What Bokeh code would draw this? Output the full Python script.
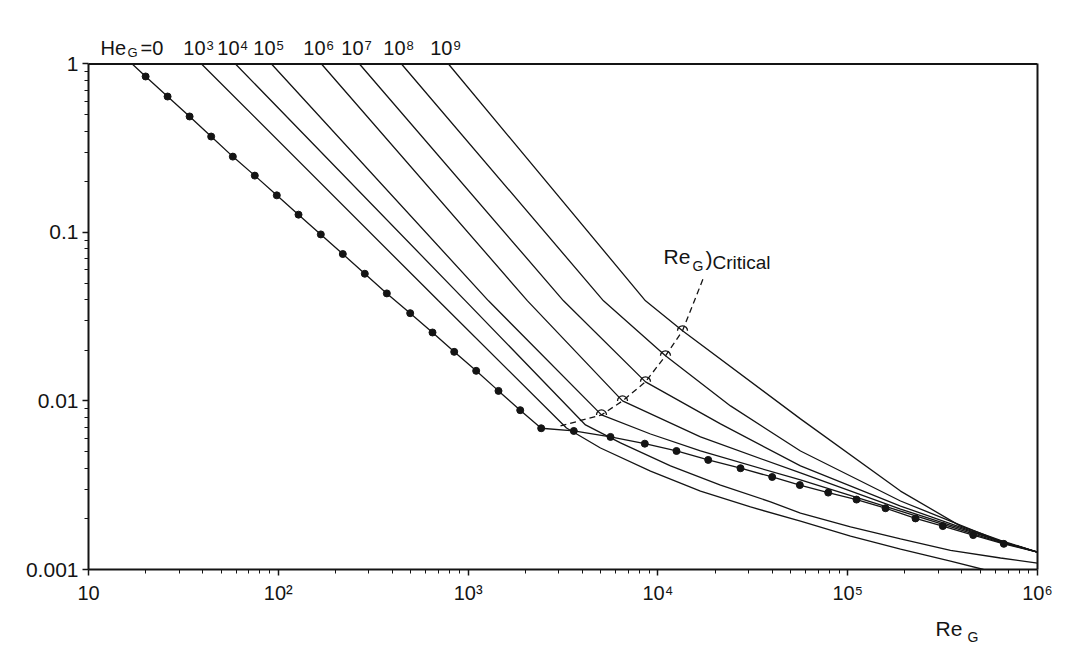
import math
from bokeh.plotting import figure
from bokeh.models import Range1d, FixedTicker, Label, LogAxis, Span
from bokeh.layouts import column
from bokeh.embed import file_html
from bokeh.resources import INLINE

FONT = "Liberation Sans"
INK = "#141414"

# ---------------- axis ticks ----------------
x_ticks = [10, 100, 1000, 10000, 100000, 1000000]
x_tick_labels = ["10", "10²", "10³", "10⁴", "10⁵", "10⁶"]
y_ticks = [0.001, 0.01, 0.1, 1]
y_tick_labels = ["0.001", "0.01", "0.1", "1"]

# ---------------- He_G = 0 (dotted Newtonian curve) ----------------
he0_dot_re = [20.0, 26.1, 34.1, 44.3, 57.6, 75.2, 98.2, 127.8, 167.5, 218.7, 285.6,
              373.1, 495.4, 649.3, 845, 1103, 1446, 1882, 2427,
              3605, 5627, 8531, 12530, 18410, 27240, 40010, 55950, 78940,
              111300, 158200, 227600, 317000, 458400, 664400]
he0_dot_f = [0.843, 0.641, 0.488, 0.371, 0.282, 0.2175, 0.1661, 0.1276, 0.0974, 0.0745, 0.0569,
             0.0435, 0.0332, 0.0255, 0.01957, 0.01510, 0.01148, 0.00882, 0.00689,
             0.00664, 0.00612, 0.00558, 0.00505, 0.00447, 0.00399, 0.00354, 0.00317, 0.00286,
             0.00260, 0.00231, 0.00201, 0.00181, 0.00160, 0.00142]
he0_end_re = [17, 1000000]
he0_end_f = [1.0, 0.00127]

# ---------------- He_G = 10^3 ... 10^9 ----------------
he_exp = ["3", "4", "5", "6", "7", "8", "9"]

re_he3 = [39.4, 698, 3299, 4984, 9142, 16760, 30750, 56390, 103500, 189800, 348000, 519400]
f_he3 = [1.0, 0.0393, 0.00692, 0.00526, 0.00384, 0.00292, 0.00235, 0.00194, 0.00158, 0.00132, 0.00112, 0.001]

re_he4 = [59.5, 969, 4154, 6353, 11650, 21370, 39210, 56390, 103500, 189800, 348000, 638500, 1000000]
f_he4 = [1.0, 0.0393, 0.00721, 0.00564, 0.00412, 0.00317, 0.00252, 0.00216, 0.00179, 0.00152, 0.00130, 0.00117, 0.00109]

re_he5 = [92.1, 1281, 5044, 9142, 16760, 56390, 189800, 638500, 1000000]
f_he5 = [1.0, 0.0393, 0.00827, 0.00637, 0.00505, 0.00340, 0.00222, 0.00145, 0.00127]

re_he6 = [168.9, 2056, 6509, 16760, 56390, 189800, 638500, 1000000]
f_he6 = [1.0, 0.0393, 0.01001, 0.00612, 0.00374, 0.00228, 0.00147, 0.00127]

re_he7 = [267.8, 3182, 8603, 21370, 56390, 189800, 638500, 1000000]
f_he7 = [1.0, 0.0393, 0.01299, 0.00731, 0.00412, 0.00238, 0.00147, 0.00127]

re_he8 = [445.8, 5168, 10965, 24130, 56390, 189800, 638500, 1000000]
f_he8 = [1.0, 0.0393, 0.01854, 0.00935, 0.00505, 0.00255, 0.00147, 0.00127]

re_he9 = [788, 8603, 13480, 56390, 189800, 392900, 638500, 1000000]
f_he9 = [1.0, 0.0393, 0.02609, 0.00783, 0.00292, 0.00181, 0.00149, 0.00127]

# ---------------- critical Reynolds number locus ----------------
crit_re = [3068, 5044, 6509, 8603, 10965, 13480, 17390]
crit_f = [0.00711, 0.00827, 0.01001, 0.01299, 0.01854, 0.02609, 0.0539]

curves_re = [re_he3, re_he4, re_he5, re_he6, re_he7, re_he8, re_he9]
curves_f = [f_he3, f_he4, f_he5, f_he6, f_he7, f_he8, f_he9]

W = 1072
LEFT, RIGHT = 88, 35
xr = Range1d(10, 1e6)
Y_TOP = 1.58   # headroom above f = 1 for the He_G labels

# ---------------- main figure ----------------
p = figure(width=W, height=614, x_axis_type="log", y_axis_type="log",
           x_range=xr, y_range=Range1d(0.001, Y_TOP),
           output_backend="svg", toolbar_location=None,
           min_border_left=LEFT, min_border_right=RIGHT, min_border_top=30, min_border_bottom=45)
p.grid.visible = False
p.outline_line_color = None
p.background_fill_color = "white"
p.border_fill_color = "white"

x_minor = [m * 10 ** k for k in range(1, 6) for m in range(2, 10)]
y_minor = [m * 10.0 ** k for k in range(-3, 0) for m in range(2, 10)]

for ax in p.xaxis:
    ax.ticker = FixedTicker(ticks=x_ticks, minor_ticks=x_minor)
    ax.major_label_overrides = {t: s for t, s in zip(x_ticks, x_tick_labels)}
    ax.major_label_standoff = 6
    ax.major_label_text_font_size = "20px"
for ax in p.yaxis:
    ax.ticker = FixedTicker(ticks=y_ticks, minor_ticks=y_minor)
    ax.major_label_overrides = {t: s for t, s in zip(y_ticks, y_tick_labels)}
    ax.major_label_standoff = 4
    ax.major_label_text_font_size = "21px"
    ax.bounds = (0.001, 1)
for ax in list(p.xaxis) + list(p.yaxis):
    ax.axis_line_width = 2
    ax.axis_line_color = INK
    ax.major_tick_out = 6
    ax.major_tick_in = 0
    ax.minor_tick_out = 4
    ax.minor_tick_in = 0
    ax.major_tick_line_width = 1.5
    ax.major_tick_line_color = INK
    ax.minor_tick_line_color = INK
    ax.major_label_text_font = FONT
    ax.major_label_text_color = INK

# box: top edge at f = 1, right edge as a plain axis line
p.add_layout(Span(location=1, dimension="width", line_color=INK, line_width=2))
right = LogAxis(ticker=FixedTicker(ticks=[]), bounds=(0.001, 1),
                axis_line_width=2, axis_line_color=INK,
                major_tick_out=0, minor_tick_out=0, major_tick_in=0, minor_tick_in=0,
                major_label_text_font_size="0px", major_label_standoff=0)
p.add_layout(right, "right")

# curves
for re, f in zip(curves_re, curves_f):
    p.line(re, f, line_color=INK, line_width=1.3)

he0_line_re = [he0_end_re[0]] + he0_dot_re + [he0_end_re[1]]
he0_line_f = [he0_end_f[0]] + he0_dot_f + [he0_end_f[1]]
p.line(he0_line_re, he0_line_f, line_color=INK, line_width=1.3)
p.scatter(he0_dot_re, he0_dot_f, size=7, color=INK)

p.line(crit_re, crit_f, line_color=INK, line_width=1.3, line_dash="6 4")
p.arc(x=crit_re[1:6], y=crit_f[1:6], radius=5, radius_units="screen",
      start_angle=0, end_angle=math.pi, line_color=INK, line_width=1.3)


def lab(fig, x, y, text, size, xo=0, yo=0, align="left", xu="data", yu="data"):
    fig.add_layout(Label(x=x, y=y, x_offset=xo, y_offset=yo, text=text,
                         x_units=xu, y_units=yu,
                         text_font=FONT, text_font_size=f"{size}px",
                         text_align=align, text_baseline="middle",
                         text_color=INK))


# He_G labels above the top of each curve (inside the headroom)
lab(p, 10, 1.0, "He", 20, 12, 15.5)
lab(p, 10, 1.0, "G", 13, 39, 11)
lab(p, 10, 1.0, "=0", 20, 52, 15.5)
for re, e in zip(curves_re, he_exp):
    lab(p, re[0], 1.0, "10", 20, 4, 15.5, align="right")
    lab(p, re[0], 1.0, e, 13, 5, 18)

# Re_G)Critical at the top of the critical locus
cx, cy = crit_re[-1], crit_f[-1]
lab(p, cx, cy, "Re", 21, -40, 21.5)
lab(p, cx, cy, "G", 14, -11, 12)
lab(p, cx, cy, ")", 21, 2, 19.5)
lab(p, cx, cy, "Critical", 19, 9, 15.5)

# ---------------- bottom strip: axis title Re_G ----------------
bot = figure(width=W, height=36, x_axis_type="log", x_range=xr, y_range=Range1d(0, 1),
             x_axis_location=None, y_axis_location=None,
             output_backend="svg", toolbar_location=None,
             min_border_left=LEFT, min_border_right=RIGHT, min_border_top=0, min_border_bottom=0)
bot.grid.visible = False
bot.outline_line_color = None
bot.background_fill_color = "white"
bot.border_fill_color = "white"
lab(bot, 847, 22.5, "Re", 21, xu="screen", yu="screen")
lab(bot, 879, 14, "G", 14, xu="screen", yu="screen")

layout = column(p, bot, spacing=0)
open("out.html", "w").write(file_html(layout, INLINE, "chart"))
